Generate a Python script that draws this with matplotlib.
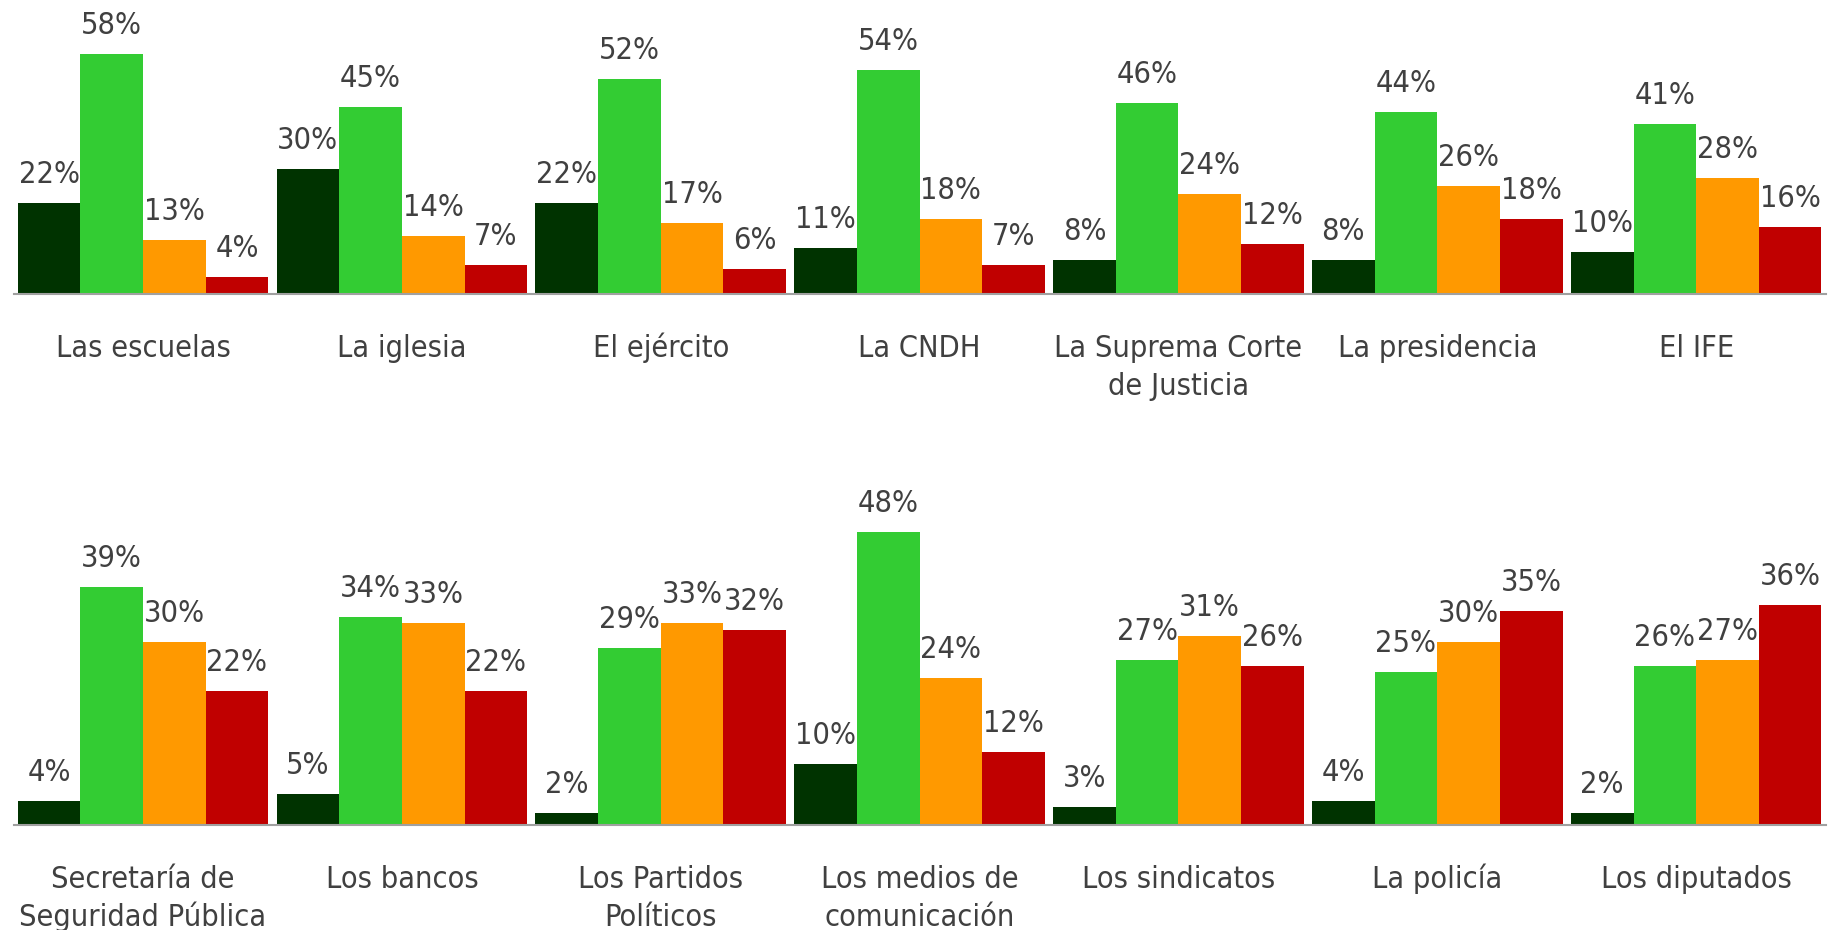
import numpy as np
import matplotlib
matplotlib.use("Agg")
import matplotlib.pyplot as plt
from matplotlib import font_manager as fm

# top row
cats_top = ["Las escuelas", "La iglesia", "El ejército", "La CNDH",
            "La Suprema Corte\nde Justicia", "La presidencia", "El IFE"]
top_s1 = [22, 30, 22, 11, 8, 8, 10]
top_s2 = [58, 45, 52, 54, 46, 44, 41]
top_s3 = [13, 14, 17, 18, 24, 26, 28]
top_s4 = [4, 7, 6, 7, 12, 18, 16]

# bottom row
cats_bot = ["Secretaría de\nSeguridad Pública", "Los bancos", "Los Partidos\nPolíticos",
            "Los medios de\ncomunicación", "Los sindicatos", "La policía", "Los diputados"]
bot_s1 = [4, 5, 2, 10, 3, 4, 2]
bot_s2 = [39, 34, 29, 48, 27, 25, 26]
bot_s3 = [30, 33, 33, 24, 31, 30, 27]
bot_s4 = [22, 22, 32, 12, 26, 35, 36]

colors = ["#003300", "#33CC33", "#FF9900", "#C00000"]
txt_color = "#404040"

plt.rcParams['font.family'] = ['DejaVu Sans']

# the original font is narrower than DejaVu Sans, use the condensed cut if it is there
cond = fm.FontProperties(family='DejaVu Sans', stretch='condensed')
if 'Condensed' in fm.findfont(cond):
    font_kw = dict(fontsize=22, fontstretch='condensed')
else:
    font_kw = dict(fontsize=20.5)

fig = plt.figure(figsize=(18.41, 9.30), dpi=100)
W, H = 1841, 930
px = 72 / 100  # points per pixel


def draw_row(ax, cats, series, ymax):
    x = np.arange(len(cats))
    w = 0.242
    for j, vals in enumerate(series):
        pos = x + (j - 1.5) * w
        bars = ax.bar(pos, vals, width=w, color=colors[j], linewidth=0)
        for b, v in zip(bars, vals):
            ax.annotate(f"{v}%", (b.get_x() + b.get_width() / 2, v),
                        xytext=(0, 20 * px), textcoords="offset points",
                        ha="center", va="baseline", color=txt_color, **font_kw)
    # category names, one line at a time so every first line sits on the same baseline
    for i, c in enumerate(cats):
        for k, line in enumerate(c.split("\n")):
            ax.annotate(line, (i, 0), xycoords=("data", "axes fraction"),
                        xytext=(0, (-63 - 38 * k) * px), textcoords="offset points",
                        ha="center", va="baseline", color=txt_color, **font_kw)
    ax.set_xlim(-0.5, 6.5)
    ax.set_ylim(0, ymax)
    ax.set_xticks([])
    ax.set_yticks([])
    for s in ["top", "left", "right"]:
        ax.spines[s].set_visible(False)
    ax.spines["bottom"].set_color("#a0a0a0")
    ax.spines["bottom"].set_linewidth(1.5)


left = 13.6 / W
width = 1812 / W

ax1 = fig.add_axes([left, 1 - 293.5 / H, width, 293.5 / H])
draw_row(ax1, cats_top, [top_s1, top_s2, top_s3, top_s4], 71)

ax2 = fig.add_axes([left, 1 - 825 / H, width, 345 / H])
draw_row(ax2, cats_bot, [bot_s1, bot_s2, bot_s3, bot_s4], 56.5)

fig.savefig("out.png", dpi=100)
